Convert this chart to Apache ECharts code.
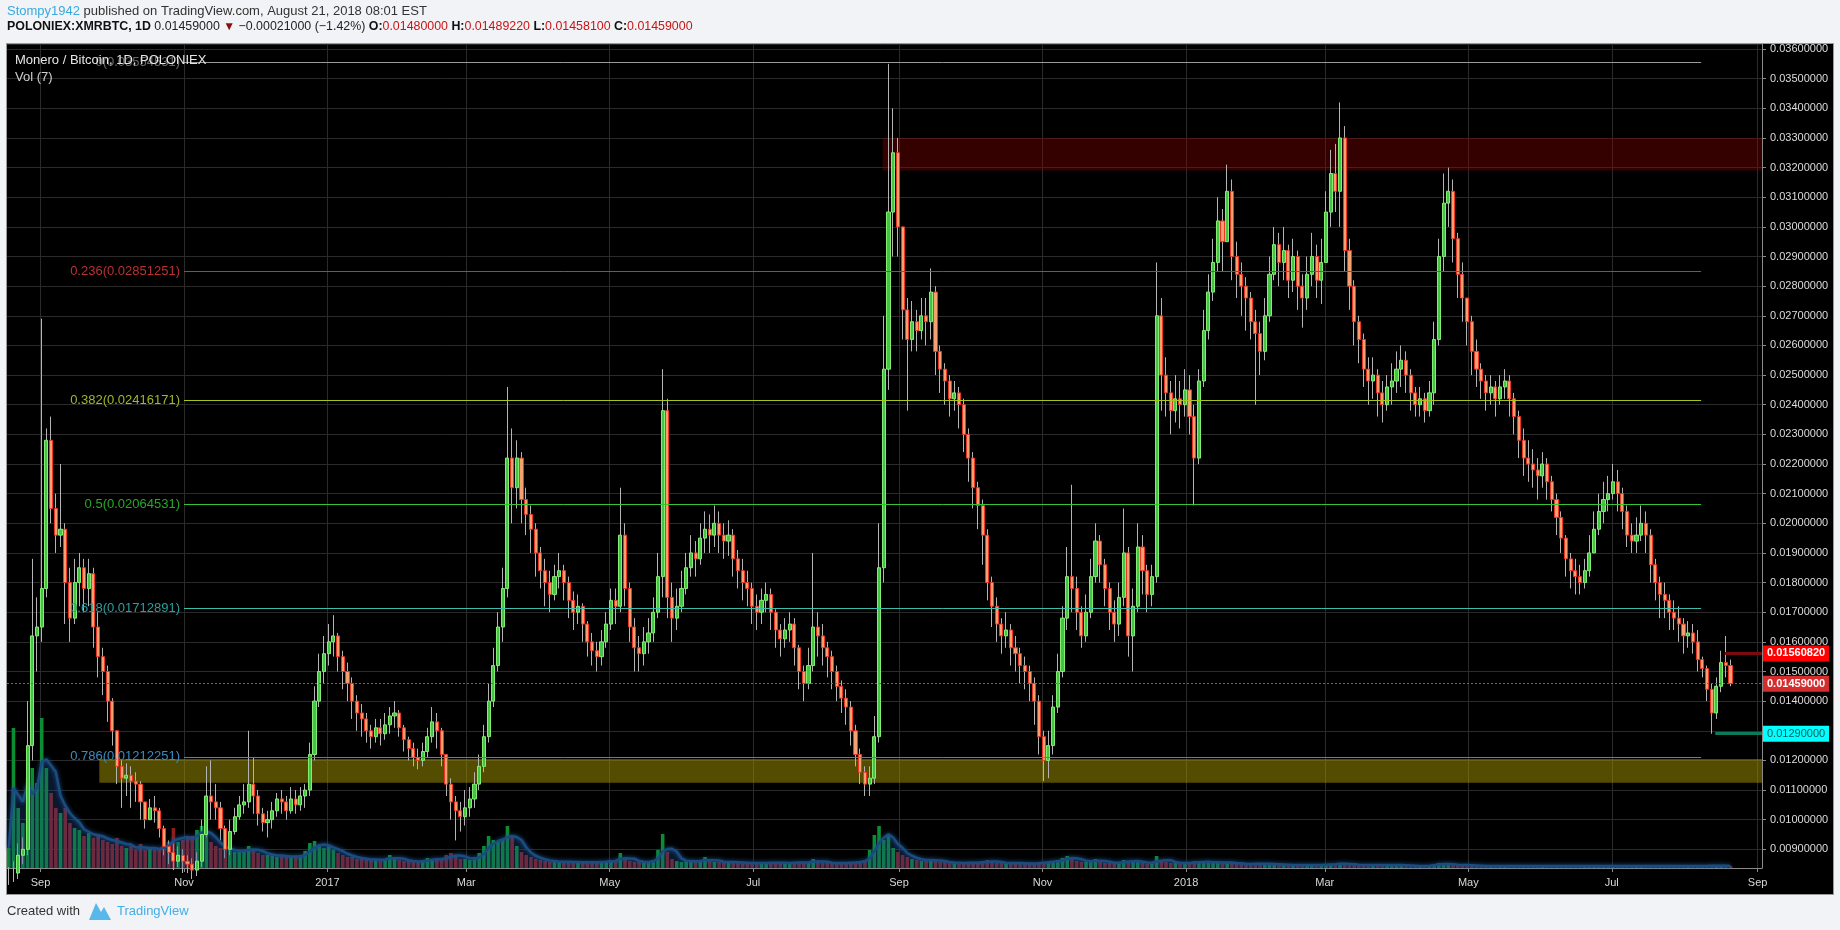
<!DOCTYPE html>
<html><head><meta charset="utf-8">
<script src="https://cdn.jsdelivr.net/npm/echarts@6/dist/echarts.min.js"></script>
<style>
html,body{margin:0;padding:0;background:#f1f3f6;width:1840px;height:930px;overflow:hidden;}
#pane{position:absolute;left:6px;top:43px;width:1826px;height:850px;background:#000;border:1px solid #9a9a9a;}
#chart{position:absolute;left:0;top:0;width:1840px;height:930px;}
</style></head><body>
<div id="pane"></div>
<div id="chart"></div>
<script>
// ---------- DATA (2-day candles, Poloniex XMR/BTC) ----------
const startDate = '2016-08-18T12:00:00Z';
const stepDays = 2;
const firstOpen = 0.0079;
const closes = [
0.0080,0.0082,0.0088,0.0090,0.0125,0.0162,0.0165,
0.0178,0.0228,0.0205,0.0196,0.0198,0.0180,0.0168,0.0180,0.0185,0.0178,0.0183,0.0165,0.0155,0.0150,0.0140,
0.0130,0.0118,0.0114,0.0115,0.0113,0.0112,0.0106,0.0100,0.0104,0.0103,0.0097,0.0091,0.0089,0.0086,0.0088,
0.0086,0.0085,0.0083,0.0086,0.0095,0.0108,0.0106,0.0104,0.0097,0.0090,0.0096,0.0101,0.0105,0.0106,0.0112,
0.0108,0.0102,0.0099,0.0100,0.0103,0.0107,0.0106,0.0103,0.0107,0.0105,0.0108,0.0110,0.0122,0.0140,0.0150,0.0156,
0.0160,0.0162,0.0155,0.0150,0.0146,0.0140,0.0136,0.0134,0.0130,0.0128,0.0131,0.0129,0.0132,0.0135,0.0136,
0.0131,0.0127,0.0124,0.0121,0.0120,0.0123,0.0128,0.0133,0.0130,0.0122,0.0112,0.0106,0.0103,0.0101,
0.0104,0.0107,0.0112,0.0118,0.0128,0.0140,0.0152,0.0165,0.0178,0.0222,0.0212,0.0222,0.0208,0.0203,0.0198,0.0190,
0.0184,0.0180,0.0176,0.0182,0.0184,0.0180,0.0174,0.0170,0.0172,0.0166,0.0160,0.0157,0.0155,0.0160,0.0166,
0.0174,0.0172,0.0196,0.0178,0.0165,0.0158,0.0156,0.0160,0.0163,0.0170,0.0182,0.0238,0.0175,0.0168,0.0172,
0.0178,0.0185,0.0190,0.0188,0.0195,0.0198,0.0196,0.0200,0.0196,0.0194,0.0196,0.0188,0.0184,0.0180,0.0178,
0.0172,0.0170,0.0174,0.0176,0.0170,0.0164,0.0161,0.0164,0.0166,0.0158,0.0150,0.0146,0.0152,0.0165,0.0162,0.0158,
0.0155,0.0150,0.0145,0.0141,0.0138,0.0130,0.0122,0.0116,0.0112,0.0114,0.0128,0.0185,0.0252,0.0305,0.0325,
0.0300,0.0272,0.0262,0.0268,0.0265,0.0270,0.0268,0.0278,0.0258,0.0252,0.0248,0.0242,0.0244,0.0240,0.0230,
0.0222,0.0212,0.0206,0.0196,0.0180,0.0172,0.0166,0.0162,0.0164,0.0158,0.0156,0.0152,0.0150,0.0146,0.0140,
0.0128,0.0120,0.0125,0.0138,0.0150,0.0168,0.0182,0.0178,0.0170,0.0162,0.0170,0.0182,0.0194,0.0186,0.0178,
0.0170,0.0166,0.0175,0.0190,0.0162,0.0172,0.0192,0.0184,0.0176,0.0182,0.0270,0.0250,0.0244,0.0238,0.0242,0.0240,
0.0245,0.0236,0.0222,0.0248,0.0265,0.0278,0.0288,0.0302,0.0295,0.0312,0.0290,0.0284,0.0280,0.0276,0.0268,0.0264,
0.0258,0.0270,0.0284,0.0294,0.0288,0.0292,0.0282,0.0290,0.0280,0.0276,0.0284,0.0290,0.0282,0.0288,
0.0305,0.0318,0.0312,0.0330,0.0292,0.0280,0.0268,0.0262,0.0252,0.0248,0.0250,0.0244,0.0240,0.0246,0.0248,
0.0252,0.0255,0.0250,0.0244,0.0240,0.0242,0.0238,0.0244,0.0262,0.0290,0.0308,0.0312,0.0296,0.0284,0.0276,
0.0268,0.0258,0.0252,0.0248,0.0244,0.0246,0.0242,0.0246,0.0248,0.0242,0.0236,0.0228,0.0222,0.0220,0.0218,
0.0216,0.0220,0.0214,0.0208,0.0202,0.0195,0.0188,0.0184,0.0182,0.0180,0.0184,0.0190,0.0198,0.0204,0.0208,0.0210,
0.0214,0.0210,0.0204,0.0196,0.0194,0.0196,0.0200,0.0196,0.0186,0.0180,0.0176,0.0174,0.0170,0.0168,0.0166,
0.0162,0.0163,0.0160,0.0154,0.0151,0.0144,0.0136,0.0145,0.0153,0.0152,0.01459
];
const highs = [
0.0084,0.0086,0.0092,0.0094,0.0140,0.0188,0.0175,
0.0269,0.0232,0.0236,0.0210,0.0220,0.0200,0.0185,0.0188,0.0190,0.0188,0.0188,0.0185,0.0170,0.0158,0.0152,
0.0141,0.0130,0.0120,0.0119,0.0118,0.0116,0.0113,0.0106,0.0107,0.0108,0.0104,0.0098,0.0093,0.0092,0.0091,
0.0090,0.0088,0.0087,0.0089,0.0100,0.0118,0.0120,0.0112,0.0106,0.0098,0.0100,0.0104,0.0108,0.0112,0.0130,
0.0121,0.0110,0.0104,0.0103,0.0106,0.0109,0.0110,0.0108,0.0111,0.0110,0.0111,0.0112,0.0126,0.0145,0.0156,0.0162,
0.0166,0.0169,0.0163,0.0157,0.0153,0.0148,0.0142,0.0139,0.0136,0.0132,0.0134,0.0134,0.0136,0.0138,0.0140,
0.0137,0.0132,0.0128,0.0126,0.0124,0.0126,0.0131,0.0138,0.0136,0.0131,0.0122,0.0114,0.0108,0.0106,
0.0110,0.0111,0.0116,0.0122,0.0132,0.0146,0.0158,0.0170,0.0185,0.0246,0.0232,0.0228,0.0224,0.0212,0.0206,0.0200,
0.0192,0.0188,0.0184,0.0186,0.0190,0.0186,0.0182,0.0177,0.0176,0.0173,0.0167,0.0163,0.0160,0.0164,0.0170,
0.0178,0.0178,0.0212,0.0200,0.0180,0.0168,0.0162,0.0165,0.0168,0.0175,0.0190,0.0252,0.0242,0.0180,0.0178,
0.0184,0.0190,0.0196,0.0194,0.0200,0.0204,0.0203,0.0206,0.0204,0.0200,0.0201,0.0198,0.0191,0.0188,0.0184,
0.0180,0.0176,0.0178,0.0180,0.0178,0.0171,0.0166,0.0168,0.0170,0.0168,0.0159,0.0152,0.0158,0.0190,0.0170,0.0166,
0.0160,0.0157,0.0152,0.0147,0.0144,0.0140,0.0132,0.0124,0.0118,0.0118,0.0135,0.0200,0.0270,0.0355,0.0340,
0.0330,0.0300,0.0276,0.0275,0.0272,0.0276,0.0276,0.0286,0.0280,0.0260,0.0254,0.0250,0.0248,0.0246,0.0242,
0.0232,0.0224,0.0214,0.0208,0.0198,0.0182,0.0175,0.0168,0.0170,0.0166,0.0162,0.0158,0.0155,0.0152,0.0148,
0.0142,0.0130,0.0130,0.0142,0.0156,0.0172,0.0192,0.0213,0.0182,0.0172,0.0176,0.0188,0.0200,0.0196,0.0188,
0.0180,0.0174,0.0180,0.0205,0.0192,0.0178,0.0200,0.0196,0.0186,0.0186,0.0288,0.0276,0.0256,0.0248,0.0250,0.0248,
0.0252,0.0250,0.0240,0.0252,0.0272,0.0284,0.0296,0.0310,0.0306,0.0321,0.0316,0.0295,0.0288,0.0283,0.0278,0.0272,
0.0268,0.0276,0.0290,0.0300,0.0298,0.0300,0.0294,0.0296,0.0292,0.0284,0.0290,0.0298,0.0294,0.0296,
0.0312,0.0326,0.0328,0.0342,0.0334,0.0296,0.0282,0.0270,0.0264,0.0256,0.0256,0.0252,0.0248,0.0250,0.0254,
0.0258,0.0260,0.0258,0.0252,0.0246,0.0246,0.0244,0.0248,0.0268,0.0296,0.0318,0.0320,0.0316,0.0298,0.0288,
0.0276,0.0270,0.0262,0.0254,0.0250,0.0250,0.0248,0.0250,0.0252,0.0250,0.0244,0.0238,0.0232,0.0228,0.0225,
0.0222,0.0224,0.0222,0.0216,0.0210,0.0204,0.0196,0.0190,0.0188,0.0186,0.0188,0.0196,0.0204,0.0210,0.0214,0.0216,
0.0220,0.0218,0.0212,0.0206,0.0200,0.0202,0.0206,0.0204,0.0198,0.0188,0.0182,0.0180,0.0176,0.0174,0.0172,
0.0168,0.0167,0.0166,0.0164,0.0155,0.0152,0.0146,0.0148,0.0157,0.0162,0.0154
];
const lows = [
0.0078,0.0079,0.0080,0.0085,0.0088,0.0120,0.0150,
0.0160,0.0175,0.0200,0.0190,0.0192,0.0166,0.0160,0.0166,0.0172,0.0170,0.0172,0.0158,0.0148,0.0142,0.0133,
0.0125,0.0112,0.0104,0.0108,0.0104,0.0106,0.0100,0.0097,0.0100,0.0099,0.0094,0.0088,0.0085,0.0083,0.0084,
0.0082,0.0082,0.0080,0.0081,0.0084,0.0094,0.0100,0.0100,0.0093,0.0087,0.0088,0.0095,0.0100,0.0102,0.0104,
0.0102,0.0098,0.0096,0.0094,0.0097,0.0101,0.0102,0.0100,0.0102,0.0102,0.0103,0.0104,0.0108,0.0120,0.0138,0.0146,
0.0152,0.0155,0.0150,0.0144,0.0140,0.0134,0.0130,0.0128,0.0126,0.0124,0.0126,0.0125,0.0127,0.0129,0.0131,
0.0128,0.0123,0.0120,0.0118,0.0117,0.0118,0.0121,0.0126,0.0124,0.0118,0.0108,0.0100,0.0093,0.0096,
0.0098,0.0101,0.0104,0.0110,0.0116,0.0126,0.0138,0.0150,0.0160,0.0175,0.0200,0.0205,0.0200,0.0196,0.0190,0.0182,
0.0178,0.0172,0.0170,0.0174,0.0178,0.0174,0.0168,0.0164,0.0166,0.0160,0.0155,0.0152,0.0150,0.0152,0.0158,
0.0164,0.0166,0.0170,0.0172,0.0160,0.0150,0.0150,0.0152,0.0156,0.0160,0.0168,0.0175,0.0168,0.0160,0.0164,
0.0170,0.0176,0.0182,0.0182,0.0186,0.0190,0.0190,0.0192,0.0190,0.0188,0.0189,0.0182,0.0178,0.0174,0.0172,
0.0166,0.0164,0.0166,0.0170,0.0164,0.0158,0.0155,0.0158,0.0160,0.0152,0.0144,0.0140,0.0144,0.0150,0.0155,0.0152,
0.0148,0.0144,0.0140,0.0136,0.0132,0.0125,0.0118,0.0112,0.0108,0.0108,0.0112,0.0126,0.0180,0.0245,0.0290,
0.0290,0.0262,0.0238,0.0258,0.0258,0.0262,0.0260,0.0262,0.0250,0.0244,0.0240,0.0236,0.0238,0.0232,0.0224,
0.0214,0.0205,0.0198,0.0186,0.0174,0.0165,0.0160,0.0156,0.0158,0.0152,0.0150,0.0146,0.0144,0.0140,0.0132,
0.0122,0.0113,0.0114,0.0122,0.0136,0.0148,0.0164,0.0170,0.0164,0.0158,0.0160,0.0168,0.0180,0.0180,0.0172,
0.0164,0.0160,0.0162,0.0172,0.0155,0.0150,0.0170,0.0176,0.0170,0.0172,0.0180,0.0238,0.0236,0.0230,0.0234,0.0232,
0.0236,0.0230,0.0206,0.0220,0.0246,0.0262,0.0275,0.0285,0.0285,0.0295,0.0282,0.0276,0.0270,0.0265,0.0262,0.0240,
0.0250,0.0255,0.0268,0.0282,0.0280,0.0282,0.0276,0.0278,0.0272,0.0266,0.0272,0.0280,0.0276,0.0274,
0.0288,0.0300,0.0305,0.0300,0.0285,0.0272,0.0260,0.0254,0.0246,0.0240,0.0242,0.0236,0.0234,0.0238,0.0240,
0.0244,0.0246,0.0244,0.0238,0.0236,0.0236,0.0234,0.0236,0.0240,0.0260,0.0285,0.0300,0.0288,0.0276,0.0268,
0.0260,0.0250,0.0246,0.0242,0.0238,0.0240,0.0236,0.0240,0.0242,0.0236,0.0230,0.0222,0.0216,0.0214,0.0212,
0.0208,0.0212,0.0208,0.0204,0.0196,0.0190,0.0182,0.0178,0.0176,0.0176,0.0178,0.0182,0.0190,0.0196,0.0200,0.0204,
0.0208,0.0204,0.0198,0.0192,0.0190,0.0190,0.0194,0.0190,0.0180,0.0174,0.0168,0.0168,0.0164,0.0164,0.0160,
0.0156,0.0158,0.0156,0.0150,0.0148,0.0140,0.0129,0.0134,0.0143,0.0148,0.0145
];
const volumes = [
20,140,60,45,90,100,85,
150,100,75,60,55,60,45,40,38,32,35,30,34,28,26,
24,30,22,20,22,18,24,18,20,18,20,24,26,40,26,
28,30,32,38,42,34,26,22,20,18,18,16,16,18,22,
18,15,13,13,13,11,13,11,11,11,13,17,25,27,22,20,
22,18,15,13,11,11,9,9,8,8,9,8,9,13,9,
8,7,7,6,6,8,10,9,8,9,13,15,13,9,
9,8,11,15,22,32,28,26,28,42,32,22,16,13,11,9,
8,7,6,7,6,6,6,6,6,5,6,6,6,6,7,
8,7,15,9,7,6,6,6,6,8,18,34,16,9,7,
6,7,8,6,7,11,7,6,6,6,6,6,5,5,5,
5,5,5,5,6,5,5,5,5,6,6,5,6,9,6,5,
5,5,5,5,5,6,6,7,8,18,33,42,28,32,20,
16,13,11,9,8,7,8,9,7,6,6,5,5,5,5,
6,5,5,7,8,6,5,5,5,5,5,5,4,4,5,
6,6,6,7,8,10,12,10,7,6,6,8,9,6,5,
5,5,6,8,7,6,7,5,4,5,12,8,6,5,5,5,
5,5,7,6,6,6,5,6,5,6,5,4,4,4,4,5,
4,4,4,4,3,3,3,3,3,3,3,3,3,3,
4,4,4,5,4,3,3,3,3,3,3,3,3,3,3,
3,3,2,2,2,2,2,3,4,5,4,3,3,3,3,
3,2,2,2,2,2,2,2,2,2,2,2,2,2,2,
2,2,2,2,2,2,2,2,2,2,2,2,2,2,2,2,
2,2,2,2,2,2,2,2,2,2,2,2,2,2,2,
2,2,2,2,2,2,3,2,2,2,2
];
const tickDates = ['2016-09-01','2016-11-01','2017-01-01','2017-03-01','2017-05-01','2017-07-01','2017-09-01','2017-11-01','2018-01-01','2018-03-01','2018-05-01','2018-07-01','2018-09-01'];
const tickLabels = ['Sep','Nov','2017','Mar','May','Jul','Sep','Nov','2018','Mar','May','Jul','Sep'];
const fibLevels = [0, 0.236, 0.382, 0.5, 0.618, 0.786];
const fibPrices = [0.03554531, 0.02851251, 0.02416171, 0.02064531, 0.01712891, 0.01212251];
const fibStart = '2016-11-01', fibEnd = '2018-08-08';
const resistanceZone = ['2017-08-25', 0.0319, 0.0330];
const supportZone = ['2016-09-26', 0.01125, 0.01205];
const lastPrice = 0.01459;
const resistRay = ['2018-08-18', 0.0156082];
const lowRay = ['2018-08-14', 0.0129];
const xRange = ['2016-08-17T18:00:00Z', '2018-09-02T21:00:00Z'];
const yRange = [0.00837, 0.03617];

// ---------- STYLE ----------
const FONT = 'Liberation Sans, Arial, sans-serif';
const fibLineColors = ['#9a9a9a', '#d03030', '#a9c41e', '#34c434', '#3cbcaa', '#2b8fd4'];
const fibTextColors = ['#6a6a6a', '#b83232', '#a3b52a', '#28a828', '#2c9e9e', '#3a8cc0'];

const DAY = 86400000;
const ts = s => Date.parse(s.length === 10 ? s + 'T00:00:00Z' : s);
const t0 = ts(startDate);
const times = closes.map((_, i) => t0 + i * stepDays * DAY);
const opens = closes.map((c, i) => i === 0 ? firstOpen : closes[i - 1]);
const xMin = ts(xRange[0]), xMax = ts(xRange[1]);
const tickTs = tickDates.map(ts);

const wickData = closes.map((c, i) => [times[i], opens[i], c, lows[i], highs[i]]);
const bodyData = closes.map((c, i) => [times[i], opens[i], c, Math.min(opens[i], c), Math.max(opens[i], c)]);
const volData = volumes.map((v, i) => ({
  value: [times[i], v],
  itemStyle: { color: closes[i] >= opens[i] ? '#0b8d33' : '#8e1d1d' }
}));
const maWin = 4;
const maData = volumes.map((v, i) => {
  const s = volumes.slice(Math.max(0, i - maWin + 1), i + 1);
  return [times[i], s.reduce((a, b) => a + b, 0) / s.length];
});

const chart = echarts.init(document.getElementById('chart'), null, { renderer: 'canvas' });

const tagLabel = (value, bg, fg, weight) => ({
  show: true, position: 'end', distance: 1, formatter: value.toFixed(8),
  backgroundColor: bg, color: fg, fontWeight: weight, fontSize: 11, fontFamily: FONT,
  padding: [3, 4, 2, 4]
});

const option = {
  backgroundColor: 'transparent',
  animation: false,
  grid: [
    { left: 7, right: 78, top: 44, bottom: 62 },
    { left: 7, right: 78, top: 618, bottom: 62 }
  ],
  xAxis: [
    {
      type: 'value', gridIndex: 0, min: xMin, max: xMax,
      axisLine: { show: true, lineStyle: { color: '#8a8a8a', width: 1 } },
      axisTick: { show: true, customValues: tickTs, length: 4, lineStyle: { color: '#8a8a8a' } },
      axisLabel: {
        customValues: tickTs, color: '#d8d8d8', fontSize: 11, fontFamily: FONT, margin: 9,
        formatter: v => { const i = tickTs.findIndex(t => Math.abs(t - v) < DAY); return i >= 0 ? tickLabels[i] : ''; }
      },
      splitLine: { show: true, lineStyle: { color: '#2a2a2a', width: 1 } }
    },
    { type: 'value', gridIndex: 1, min: xMin, max: xMax, show: false, splitLine: { show: false } }
  ],
  yAxis: [
    {
      type: 'value', gridIndex: 0, position: 'right', min: yRange[0], max: yRange[1],
      splitNumber: 28, minInterval: 0.001, maxInterval: 0.001,
      axisLine: { show: true, lineStyle: { color: '#8a8a8a' } },
      axisTick: { show: true, length: 4, lineStyle: { color: '#8a8a8a' } },
      axisLabel: { color: '#dcdcdc', fontSize: 11, fontFamily: FONT, margin: 8, showMinLabel: false, showMaxLabel: false,
        formatter: v => v.toFixed(8) },
      splitLine: { show: true, lineStyle: { color: '#2a2a2a', width: 1 } }
    },
    { type: 'value', gridIndex: 1, min: 0, max: 250, show: false, splitLine: { show: false } }
  ],
  series: [
    {
      name: 'levels', type: 'line', xAxisIndex: 0, yAxisIndex: 0, data: [], z: 1, silent: true,
      markArea: {
        silent: true,
        data: [
          [{ coord: [ts(resistanceZone[0]), resistanceZone[2]], itemStyle: { color: 'rgba(150,0,0,0.35)' } },
           { coord: [xMax, resistanceZone[1]] }],
          [{ coord: [ts(supportZone[0]), supportZone[2]], itemStyle: { color: 'rgba(175,158,0,0.48)' } },
           { coord: [xMax, supportZone[1]] }]
        ]
      },
      markLine: {
        silent: true, symbol: ['none', 'none'], animation: false, precision: 8,
        data: fibPrices.map((p, i) => [
          { coord: [ts(fibStart), p], lineStyle: { color: fibLineColors[i], width: 1, type: 'solid' },
            label: { show: true, position: 'start', distance: 4, color: fibTextColors[i], fontSize: 13, fontFamily: FONT,
              formatter: fibLevels[i] + '(' + p.toFixed(8) + ')' } },
          { coord: [ts(fibEnd), p] }
        ])
      }
    },
    {
      name: 'wicks', type: 'candlestick', xAxisIndex: 0, yAxisIndex: 0, z: 2, clip: true,
      encode: { x: 0, y: [1, 2, 3, 4] }, barWidth: 1, data: wickData,
      itemStyle: { color: '#b4b4b4', color0: '#b4b4b4', borderColor: '#b4b4b4', borderColor0: '#b4b4b4', borderWidth: 1 }
    },
    {
      name: 'XMRBTC', type: 'candlestick', xAxisIndex: 0, yAxisIndex: 0, z: 3, clip: true,
      encode: { x: 0, y: [1, 2, 3, 4] }, barWidth: 3.6, data: bodyData,
      itemStyle: { color: '#46c246', color0: '#f5a070', borderColor: '#84ee72', borderColor0: '#ee3524', borderWidth: 1 }
    },
    {
      name: 'Volume', type: 'bar', xAxisIndex: 1, yAxisIndex: 1, z: 2, barWidth: 3.6, data: volData, clip: true
    },
    {
      name: 'Vol MA', type: 'line', xAxisIndex: 1, yAxisIndex: 1, z: 3, data: maData, symbol: 'none', silent: true,
      lineStyle: { color: '#1b4c80', width: 2.5, shadowBlur: 4, shadowColor: '#1f5a9a' },
      areaStyle: { color: 'rgba(30,72,140,0.45)' }
    },
    {
      name: 'tags', type: 'line', xAxisIndex: 0, yAxisIndex: 0, data: [], z: 6, silent: true,
      markLine: {
        silent: true, symbol: ['none', 'none'], animation: false, precision: 8,
        data: [
          { yAxis: lastPrice, lineStyle: { color: '#e53935', width: 1, type: [2, 2] }, label: tagLabel(lastPrice, '#d42d2d', '#ffffff', 'bold') },
          [{ coord: [ts(resistRay[0]), resistRay[1]], lineStyle: { color: '#7d0a0a', width: 3, type: 'solid' }, label: tagLabel(resistRay[1], '#ff0000', '#ffffff', 'bold') },
           { coord: [xMax, resistRay[1]] }],
          [{ coord: [ts(lowRay[0]), lowRay[1]], lineStyle: { color: '#0b7a5c', width: 3, type: 'solid' }, label: tagLabel(lowRay[1], '#00ffff', '#0b5a5a', 'normal') },
           { coord: [xMax, lowRay[1]] }]
        ]
      }
    }
  ],
  graphic: [
    { type: 'text', left: 7, top: 5, z: 100, style: {
      text: '{u|Stompy1942}{n| published on TradingView.com, August 21, 2018 08:01 EST}',
      rich: { u: { fill: '#3aa9dd', fontSize: 13, fontFamily: FONT }, n: { fill: '#333333', fontSize: 13, fontFamily: FONT } } } },
    { type: 'text', left: 7, top: 21, z: 100, style: {
      text: '{b|POLONIEX:XMRBTC, 1D}{n| 0.01459000 }{d|▼}{n| \u22120.00021000 (\u22121.42%) }{b|O:}{r|0.01480000}{b| H:}{r|0.01489220}{b| L:}{r|0.01458100}{b| C:}{r|0.01459000}',
      rich: {
        b: { fill: '#111111', fontSize: 12.4, fontWeight: 'bold', fontFamily: FONT },
        n: { fill: '#222222', fontSize: 12.4, fontFamily: FONT },
        d: { fill: '#8b0d0d', fontSize: 12, fontFamily: FONT },
        r: { fill: '#c81414', fontSize: 12.4, fontFamily: FONT }
      } } },
    { type: 'text', left: 15, top: 54, z: 100, style: { text: 'Monero / Bitcoin, 1D, POLONIEX', fill: '#e6e6e6', fontSize: 13, fontFamily: FONT } },
    { type: 'text', left: 15, top: 71, z: 100, style: { text: 'Vol (7)', fill: '#cfcfcf', fontSize: 13, fontFamily: FONT } },
    { type: 'text', left: 7, top: 905, z: 100, style: { text: 'Created with', fill: '#333333', fontSize: 13, fontFamily: FONT } },
    { type: 'polygon', z: 100, shape: { points: [[89, 920], [96, 903], [101, 912], [104, 907], [111, 920]] }, style: { fill: '#5ab7ea' } },
    { type: 'text', left: 117, top: 905, z: 100, style: { text: 'TradingView', fill: '#45aee6', fontSize: 13, fontFamily: FONT } }
  ]
};
chart.setOption(option);
</script>
</body></html>
